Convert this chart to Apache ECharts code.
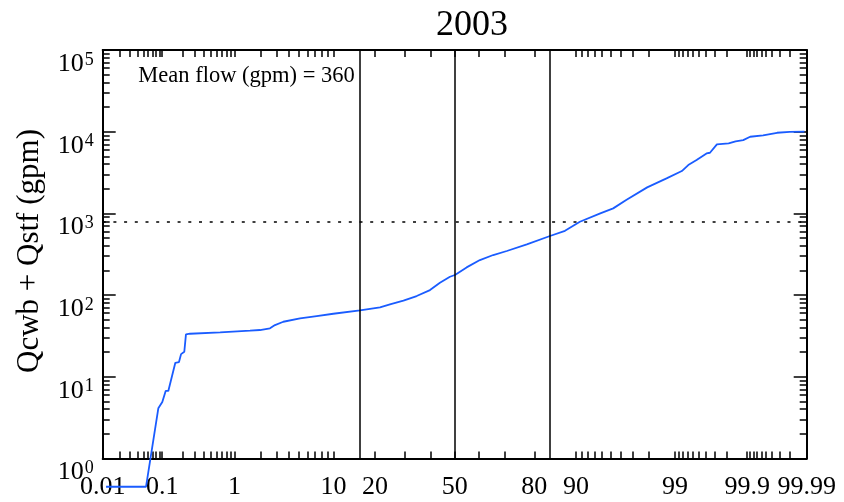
<!DOCTYPE html>
<html>
<head>
<meta charset="utf-8">
<script src="https://cdn.jsdelivr.net/npm/echarts@6/dist/echarts.min.js"></script>
<style>
  html, body { margin: 0; padding: 0; background: #fff; }
  #chart { width: 844px; height: 502px; }
</style>
</head>
<body>
<div id="chart"></div>
<script>
// ---- Text ----
const yearTitle = '2003';
const meanFlowText = 'Mean flow (gpm) = 360';
const flowAxisTitle = 'Qcwb + Qstf (gpm)';

// ---- Flow-duration data: cumulative probability (%) and combined flow (gpm) ----
const probPct = [
  0.0115, 0.0555, 0.087, 0.1003, 0.113, 0.124, 0.158, 0.179, 0.192, 0.214,
  0.226, 0.258, 0.66, 1.53, 1.98, 2.55, 2.88, 3.51, 5.11, 7.24,
  9.98, 15.85, 21.5, 24.7, 29.4, 34.4, 39.7, 43.8, 48.0, 50.1,
  55.0, 60.5, 65.8, 70.9, 77.7, 84.3, 87.8, 90.7, 93.8, 95.3,
  96.5, 97.9, 98.74, 99.18, 99.32, 99.47, 99.61, 99.65, 99.72, 99.81,
  99.85, 99.885, 99.91, 99.944, 99.967, 99.980, 99.989
];
const flowGpm = [
  0.45, 0.45, 4.1, 4.9, 6.7, 6.7, 14.8, 15.1, 18.9, 20.2,
  33.0, 33.6, 35.0, 36.6, 37.3, 39.1, 42.9, 47.1, 51.8, 55.3,
  59.0, 65.0, 70.7, 76.9, 85.2, 97.2, 115, 141.5, 167.5, 176,
  218, 268, 309, 346, 418, 528, 612, 789, 1000, 1151,
  1455, 2080, 2680, 3295, 3900, 4490, 5420, 5520, 6995, 7195,
  7610, 7890, 8670, 9020, 9700, 9970, 10000
];

// ---- Axis labels and ticks ----
const probLabelValues = [0.01, 0.1, 1, 10, 20, 50, 80, 90, 99, 99.9, 99.99];
const probLabelTexts = ['0.01', '0.1', '1', '10', '20', '50', '80', '90', '99', '99.9', '99.99'];
const probTickValues = [
  0.01, 0.02, 0.03, 0.04, 0.05, 0.06, 0.07, 0.08, 0.09,
  0.1, 0.2, 0.3, 0.4, 0.5, 0.6, 0.7, 0.8, 0.9,
  1, 2, 3, 4, 5, 6, 7, 8, 9,
  10, 20, 30, 40, 50, 60, 70, 80, 90,
  91, 92, 93, 94, 95, 96, 97, 98, 99,
  99.1, 99.2, 99.3, 99.4, 99.5, 99.6, 99.7, 99.8, 99.9,
  99.91, 99.92, 99.93, 99.94, 99.95, 99.96, 99.97, 99.98, 99.99
];
const probRange = [0.01, 99.99];
const sigmaLinesPct = [15.87, 50, 84.13];
const thresholdFlow = 800;
const flowRange = [1, 100000];
const flowMinorMultipliers = [2, 3, 4, 5, 6, 7, 8, 9];

// Inverse standard normal CDF (Acklam's rational approximation)
function probit(p) {
  const a = [-3.969683028665376e+01, 2.209460984245205e+02, -2.759285104469687e+02,
             1.383577518672690e+02, -3.066479806614716e+01, 2.506628277459239e+00];
  const b = [-5.447609879822406e+01, 1.615858368580409e+02, -1.556989798598866e+02,
             6.680131188771972e+01, -1.328068155288572e+01];
  const c = [-7.784894002430293e-03, -3.223964580411365e-01, -2.400758277161838e+00,
             -2.549671348133137e+00, 4.374664141464968e+00, 2.938163982698783e+00];
  const d = [7.784695709041462e-03, 3.224671290700398e-01, 2.445134137142996e+00,
             3.754408661907416e+00];
  const pl = 0.02425;
  let q, r;
  if (p < pl) {
    q = Math.sqrt(-2 * Math.log(p));
    return (((((c[0]*q + c[1])*q + c[2])*q + c[3])*q + c[4])*q + c[5]) /
           ((((d[0]*q + d[1])*q + d[2])*q + d[3])*q + 1);
  }
  if (p <= 1 - pl) {
    q = p - 0.5; r = q * q;
    return (((((a[0]*r + a[1])*r + a[2])*r + a[3])*r + a[4])*r + a[5]) * q /
           (((((b[0]*r + b[1])*r + b[2])*r + b[3])*r + b[4])*r + 1);
  }
  q = Math.sqrt(-2 * Math.log(1 - p));
  return -(((((c[0]*q + c[1])*q + c[2])*q + c[3])*q + c[4])*q + c[5]) /
          ((((d[0]*q + d[1])*q + d[2])*q + d[3])*q + 1);
}
// Percent -> position on the normal-probability axis
const zOf = pct => probit(pct / 100);

const zMin = zOf(probRange[0]);
const zMax = zOf(probRange[1]);
const zLabels = probLabelValues.map(zOf);
const zTicks = probTickValues.map(zOf);

// Minor log ticks (2..9 within each decade), in log10 units
const logMin = Math.log10(flowRange[0]);
const logMax = Math.log10(flowRange[1]);
const logMinorTicks = [];
for (let e = logMin; e < logMax; e++) {
  flowMinorMultipliers.forEach(m => logMinorTicks.push(e + Math.log10(m)));
}

const seriesData = probPct.map((p, i) => [zOf(p), flowGpm[i]]);

const FONT = '"Liberation Serif", "DejaVu Serif", serif';
const INK = '#000';
const tickStyle = { color: INK, width: 1.5 };
const frameLine = { show: true, onZero: false, lineStyle: { color: INK, width: 2 } };
const noLine = { show: false, onZero: false };

const chart = echarts.init(document.getElementById('chart'), null, { renderer: 'canvas' });

chart.setOption({
  animation: false,
  backgroundColor: '#fff',
  grid: { left: 102.7, right: 37.3, top: 50, bottom: 43.6, containLabel: false, outerBoundsMode: 'none' },
  xAxis: [
    {
      type: 'value', min: zMin, max: zMax, position: 'bottom',
      splitLine: { show: false }, axisLine: frameLine,
      axisTick: { show: true, inside: true, length: 7, customValues: zTicks, lineStyle: tickStyle },
      axisLabel: {
        show: true, customValues: zLabels, margin: 16,
        showMinLabel: true, showMaxLabel: true, hideOverlap: false,
        color: INK, fontFamily: FONT, fontSize: 26,
        formatter: v => {
          const i = zLabels.findIndex(z => Math.abs(z - v) < 1e-6);
          return i >= 0 ? probLabelTexts[i] : '';
        }
      }
    },
    {
      type: 'value', min: zMin, max: zMax, position: 'top',
      splitLine: { show: false }, axisLine: frameLine,
      axisTick: { show: true, inside: true, length: 7, customValues: zTicks, lineStyle: tickStyle },
      axisLabel: { show: false }
    }
  ],
  yAxis: [
    {
      type: 'log', logBase: 10, min: flowRange[0], max: flowRange[1], position: 'left',
      splitLine: { show: false }, axisLine: frameLine,
      axisTick: { show: true, inside: true, length: 13, lineStyle: tickStyle },
      axisLabel: {
        show: true, margin: 9, padding: [28, 0, 0, 0],
        formatter: v => '{b|10}{s|' + Math.round(Math.log10(v)) + '}',
        rich: {
          b: { fontFamily: FONT, fontSize: 26, color: INK, lineHeight: 26, verticalAlign: 'bottom', padding: [6, 0, 0, 0] },
          s: { fontFamily: FONT, fontSize: 18, color: INK, lineHeight: 18, verticalAlign: 'top', padding: [0, 0, 0, 1] }
        }
      }
    },
    {
      type: 'value', min: logMin, max: logMax, position: 'left',
      splitLine: { show: false }, axisLine: noLine, axisLabel: { show: false },
      axisTick: { show: true, inside: true, length: 7, customValues: logMinorTicks, lineStyle: tickStyle }
    },
    {
      type: 'log', logBase: 10, min: flowRange[0], max: flowRange[1], position: 'right',
      splitLine: { show: false }, axisLine: frameLine,
      axisTick: { show: true, inside: true, length: 13, lineStyle: tickStyle },
      axisLabel: { show: false }
    },
    {
      type: 'value', min: logMin, max: logMax, position: 'right',
      splitLine: { show: false }, axisLine: noLine, axisLabel: { show: false },
      axisTick: { show: true, inside: true, length: 7, customValues: logMinorTicks, lineStyle: tickStyle }
    }
  ],
  series: [
    {
      type: 'line', xAxisIndex: 0, yAxisIndex: 0,
      data: seriesData,
      clip: false, smooth: false, showSymbol: false, symbol: 'none',
      lineStyle: { color: '#1a5cff', width: 1.8 },
      z: 3,
      markLine: {
        silent: true, symbol: 'none', animation: false,
        label: { show: false },
        data: [
          ...sigmaLinesPct.map(p => ({ xAxis: zOf(p), lineStyle: { color: INK, width: 1.5, type: 'solid' } })),
          { yAxis: thresholdFlow, lineStyle: { color: INK, width: 1.5, type: [3, 7.7] } }
        ]
      }
    }
  ],
  graphic: [
    {
      type: 'text', x: 472, y: 26,
      style: { text: yearTitle, fill: INK, font: '36px ' + FONT, align: 'center', verticalAlign: 'middle' }
    },
    {
      type: 'text', x: 138.3, y: 76,
      style: { text: meanFlowText, fill: INK, font: '22.5px ' + FONT, align: 'left', verticalAlign: 'middle' }
    },
    {
      type: 'text', x: 30, y: 251, rotation: Math.PI / 2,
      style: { text: flowAxisTitle, fill: INK, font: '31px ' + FONT, align: 'center', verticalAlign: 'middle' }
    }
  ]
});
</script>
</body>
</html>
